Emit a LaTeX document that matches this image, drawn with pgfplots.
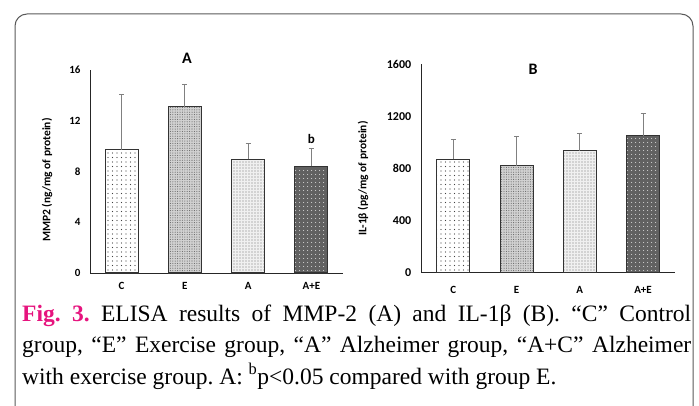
\documentclass[border=0pt]{standalone}
\usepackage{pgfplots}
\pgfplotsset{compat=1.18}
\usetikzlibrary{patterns.meta}
\usepackage{fontspec}
\setmainfont{Liberation Serif}
\newfontfamily\calfont{Carlito}
\newfontfamily\capfont{Liberation Serif}
\definecolor{figmag}{HTML}{E6147E}
\frenchspacing

\pgfplotsset{
  mybar/.style={
    scale only axis, width=253pt,
    xmin=-0.5, xmax=3.5, ymin=0,
    xtick={0,1,2,3}, xticklabels={C,E,A,A+E},
    axis x line=bottom, axis y line=left,
    axis line style={-, black!85, line width=0.9pt},
    major tick length=0pt,
    tick label style={font=\calfont\bfseries\fontsize{11}{13}\selectfont},
    /pgf/number format/assume math mode=true,
    /pgf/number format/1000 sep={},
    ylabel style={font=\calfont\bfseries\fontsize{11.5}{13}\selectfont, anchor=center},
    ybar, bar width=33pt,
    clip=false,
  },
  barC/.style={bar shift=0pt, draw=black!80, line width=1.1pt, fill=white,
    postaction={pattern={Dots[distance=4.5pt,radius=0.6pt]}, pattern color=black!75}},
  barE/.style={bar shift=0pt, draw=black!80, line width=1.1pt, fill=black!18,
    postaction={pattern={Dots[distance=2.4pt,radius=0.55pt]}, pattern color=black!60}},
  barA/.style={bar shift=0pt, draw=black!80, line width=1.1pt, fill=black!6,
    postaction={pattern={Dots[distance=3pt,radius=0.55pt]}, pattern color=black!55}},
  barAE/.style={bar shift=0pt, draw=black!80, line width=1.1pt, fill=black!62,
    postaction={pattern={Dots[distance=4pt,radius=0.6pt]}, pattern color=white}},
  errs/.style={error bars/.cd, y dir=plus, y explicit,
    error bar style={black!50, line width=0.9pt},
    error mark options={black!50, line width=0.9pt, mark size=2.5pt, rotate=90}},
}

\begin{document}
\begin{tikzpicture}[x=1pt,y=1pt]
\path[use as bounding box] (0,0) rectangle (699,405);
\begin{scope}
\clip (0,0) rectangle (699,405);
\draw[rounded corners=12pt, line width=1pt, black!65] (15,-20) rectangle (693,391);
\end{scope}

% Panel A
\begin{axis}[mybar, at={(90pt,132pt)}, anchor=south west, height=203pt,
  ymax=16, ytick={0,4,8,12,16},
  yticklabel style={xshift=-6pt},
  xticklabel style={yshift=-6pt},
  ylabel={MMP2 (ng/mg of protein)},
  ylabel style={at={(axis description cs:-0.17,0.458)}},
]
\addplot[barC, errs] coordinates {(0,9.7) +- (0,4.4)};
\addplot[barE, errs] coordinates {(1,13.1) +- (0,1.8)};
\addplot[barA, errs] coordinates {(2,8.95) +- (0,1.25)};
\addplot[barAE, errs] coordinates {(3,8.4) +- (0,1.4)};
\node[font=\calfont\bfseries\fontsize{16}{18}\selectfont] at (axis description cs:0.383,1.059) {A};
\node[font=\calfont\bfseries\fontsize{13}{14}\selectfont] at (axis cs:3,10.6) {b};
\end{axis}

% Panel B
\begin{axis}[mybar, at={(421.7pt,132.3pt)}, anchor=south west, height=208.4pt,
  ymax=1600, ytick={0,400,800,1200,1600},
  yticklabel style={xshift=-7pt, font=\calfont\bfseries\fontsize{12}{14}\selectfont},
  xticklabel style={yshift=-10pt},
  ylabel={IL-1β (pg/mg of protein)},
  ylabel style={at={(axis description cs:-0.232,0.452)}},
]
\addplot[barC, errs] coordinates {(0,872) +- (0,154)};
\addplot[barE, errs] coordinates {(1,821) +- (0,223)};
\addplot[barA, errs] coordinates {(2,936) +- (0,136)};
\addplot[barAE, errs] coordinates {(3,1051) +- (0,172)};
\node[font=\calfont\bfseries\fontsize{16}{18}\selectfont] at (axis description cs:0.44,0.977) {B};
\end{axis}

% Caption
\node[anchor=base west, inner sep=0pt] at (22,84) {\makebox[669pt][s]{\capfont\fontsize{23.5}{27}\selectfont{\color{figmag}\bfseries Fig. 3.} ELISA results of MMP-2 (A) and IL-1β (B). “C” Control}};
\node[anchor=base west, inner sep=0pt] at (22,53) {\makebox[669pt][s]{\capfont\fontsize{23.5}{27}\selectfont group, “E” Exercise group, “A” Alzheimer group, “A+C” Alzheimer}};
\node[anchor=base west, inner sep=0pt] at (22,21) {\capfont\fontsize{23.5}{27}\selectfont with exercise group. A: \textsuperscript{b}p<0.05 compared with group E.};
\end{tikzpicture}
\end{document}
